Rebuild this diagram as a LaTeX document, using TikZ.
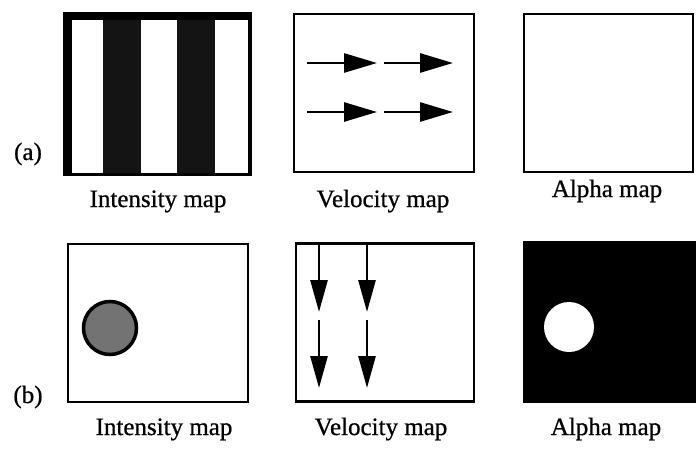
\documentclass[tikz,border=0pt]{standalone}
\usepackage{fontspec}
\setmainfont{Liberation Serif}
\newfontfamily\scanfont{Liberation Serif}[FakeBold=0.7]
\usepackage{tikz}
\usetikzlibrary{arrows.meta,positioning}

\begin{document}
\begin{tikzpicture}[
    x=1pt, y=-1pt,
    mapbox/.style={draw, line width=2.8pt, inner sep=0pt, minimum height=158pt},
    stripe/.style={fill=black!92, inner sep=0pt, minimum width=38pt, minimum height=153pt},
    maplabel/.style={font=\scanfont\fontsize{25}{30}\selectfont, anchor=base, inner sep=0pt},
    vec/.style={-{Triangle[length=33pt, width=19pt]}, line width=2.8pt},
    dvec/.style={-{Triangle[length=32pt, width=17pt]}, line width=2.8pt}
  ]
  \useasboundingbox (0,0) rectangle (696,452);

  % Row (a)
  \node[fill=black, inner sep=0pt, minimum width=189pt, minimum height=164pt] (intAframe) at (157.5,94) {};
  \node[fill=white, inner sep=0pt, minimum width=176pt, minimum height=153pt] (intA) at (160,96.5) {};
  \node[stripe] (stripeL) at (122,96.5) {};
  \node[stripe] (stripeR) at (196,96.5) {};
  \node[mapbox, minimum width=180pt] (velA) at (384,93) {};
  \node[mapbox, minimum width=169pt] (alphaA) at (608.5,93) {};

  % Flow to the right
  \foreach \r in {63,112} {
    \draw[vec] (307,\r) -- (377,\r);
    \draw[vec] (384,\r) -- (453,\r);
  }

  % Row (b)
  \node[mapbox, minimum width=180pt] (intB) at (158,323) {};
  \node[circle, draw, line width=3.5pt, fill=black!55, minimum size=53pt, inner sep=0pt] (blob) at (110,328) {};
  \node[mapbox, minimum width=178pt] (velB) at (385,322.5) {};
  \node[fill=black, inner sep=0pt, minimum width=173pt, minimum height=162pt] (alphaB) at (609.5,322) {};
  \node[circle, fill=white, minimum size=50pt, inner sep=0pt] (hole) at (569,327) {};

  % Flow downwards
  \foreach \c in {319,367} {
    \draw[dvec] (\c,243) -- (\c,312);
    \draw[dvec] (\c,320) -- (\c,388);
  }

  % Labels
  \node[maplabel] (tagA) at (28,160) {(a)};
  \node[maplabel] (tagB) at (28,403) {(b)};
  \node[maplabel] (intAcap) at (158,207) {Intensity map};
  \node[maplabel] (velAcap) at (383,207) {Velocity map};
  \node[maplabel] (alphaAcap) at (607,197) {Alpha map};
  \node[maplabel] (intBcap) at (164,435) {Intensity map};
  \node[maplabel] (velBcap) at (381,435) {Velocity map};
  \node[maplabel] (alphaBcap) at (606,435) {Alpha map};
\end{tikzpicture}
\end{document}
